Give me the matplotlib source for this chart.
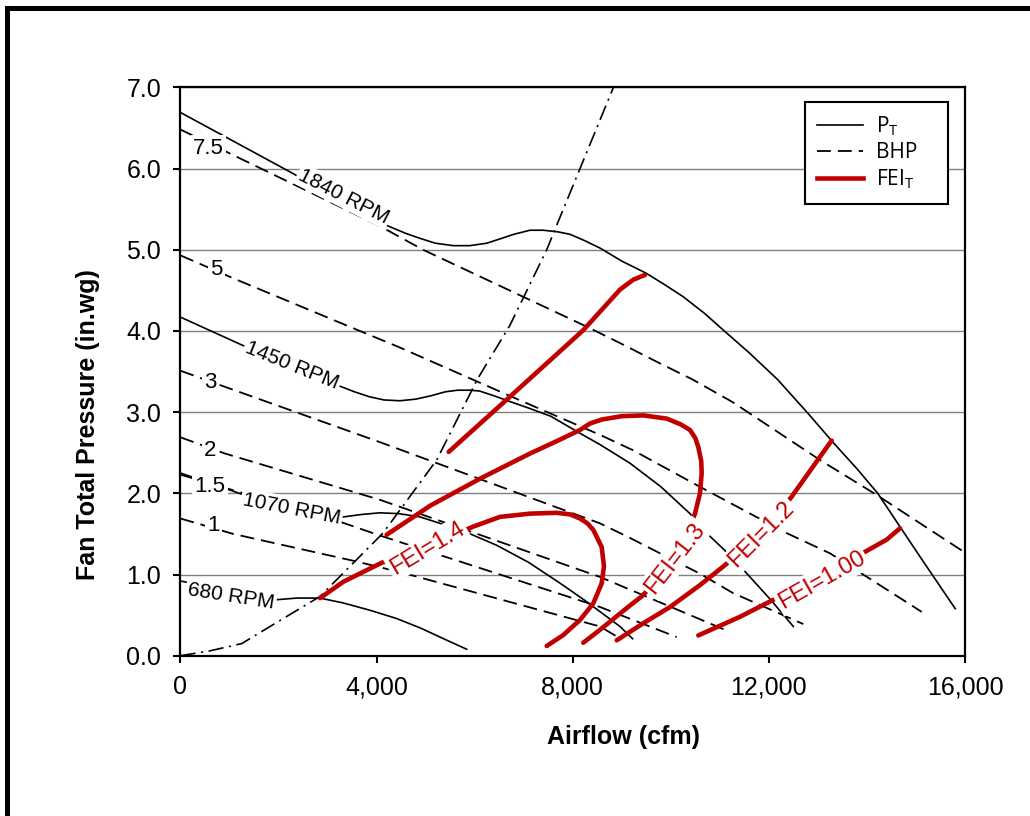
import matplotlib
matplotlib.use('Agg')
import matplotlib.pyplot as plt
from matplotlib.lines import Line2D
from matplotlib.patches import Rectangle
from matplotlib.ticker import FuncFormatter

# fan total pressure curves (cfm, in.wg)
rpm1840_cfm = [0, 1100, 2230, 3300, 4205, 4600, 4885, 5200, 5564, 5900, 6245, 6500, 6800, 7128,
               7400, 7700, 7944, 8250, 8557, 9000, 9500, 9900, 10255, 10700, 11071, 11600,
               12180, 12790, 13320, 13800, 14220, 15082, 15800]
rpm1840_pt = [6.69, 6.33, 5.96, 5.60, 5.30, 5.20, 5.14, 5.08, 5.05, 5.05, 5.08, 5.13, 5.19, 5.24,
              5.24, 5.22, 5.19, 5.11, 5.02, 4.86, 4.71, 4.56, 4.42, 4.21, 4.01, 3.73,
              3.40, 2.99, 2.62, 2.30, 2.00, 1.22, 0.58]
rpm1450_cfm = [0, 1240, 2270, 3208, 3550, 3850, 4150, 4474, 4800, 5100, 5400, 5650, 5900, 6100,
               6400, 6720, 7100, 7550, 8148, 8557, 9170, 9800, 10391, 10732, 11200, 11600,
               12050, 12499]
rpm1450_pt = [4.17, 3.83, 3.55, 3.33, 3.25, 3.19, 3.15, 3.14, 3.16, 3.20, 3.25, 3.27, 3.27, 3.26,
              3.20, 3.13, 3.05, 2.95, 2.74, 2.60, 2.37, 2.08, 1.75, 1.51, 1.24, 0.98,
              0.68, 0.36]
rpm1070_cfm = [0, 1250, 2268, 3208, 3450, 3700, 4066, 4450, 4883, 5500, 5950, 6450, 7100, 7750,
               8250, 8964, 9220]
rpm1070_pt = [2.25, 1.99, 1.82, 1.70, 1.72, 1.74, 1.76, 1.75, 1.71, 1.59, 1.49, 1.36, 1.15, 0.89,
              0.68, 0.36, 0.21]
rpm680_cfm = [0, 1030, 1962, 2370, 2846, 3320, 3865, 4400, 4900, 5400, 5837]
rpm680_pt = [0.92, 0.80, 0.69, 0.71, 0.71, 0.65, 0.56, 0.46, 0.34, 0.20, 0.08]

# constant BHP lines
bhp75_cfm = [0, 4069, 4946, 8294, 8966, 9780, 10450, 11270, 13044, 14199, 16000]
bhp75_pt = [6.48, 5.29, 5.00, 4.05, 3.85, 3.60, 3.40, 3.12, 2.41, 1.98, 1.27]
bhp5_cfm = [0, 1070, 3457, 4458, 6716, 8557, 9232, 10595, 12363, 13250, 15117]
bhp5_pt = [4.93, 4.65, 4.05, 3.80, 3.20, 2.72, 2.53, 2.08, 1.51, 1.26, 0.54]
bhp3_cfm = [0, 869, 4069, 8557, 9170, 10595, 11275, 12702]
bhp3_pt = [3.51, 3.32, 2.63, 1.63, 1.45, 1.01, 0.77, 0.39]
bhp2_cfm = [0, 909, 4069, 8557, 11140]
bhp2_pt = [2.69, 2.49, 1.92, 0.97, 0.31]
bhp15_cfm = [0, 3254, 4069, 8557, 10120]
bhp15_pt = [2.23, 1.65, 1.48, 0.60, 0.23]
bhp1_cfm = [0, 1077, 3594, 4540, 8557, 9000]
bhp1_pt = [1.69, 1.50, 1.16, 1.02, 0.36, 0.20]

# system curve (dash-dot)
sys_cfm = [0, 600, 1250, 1826, 2846, 4130, 5225, 6060, 6720, 7470, 7604, 8830]
sys_pt = [0, 0.06, 0.15, 0.36, 0.73, 1.51, 2.41, 3.41, 4.07, 5.00, 5.20, 7.00]

# FEI contours
fei14_cfm = [2846, 3320, 4103, 4600, 5037, 5500, 5970, 6516, 7128, 7672, 7950, 8148, 8300, 8419,
             8590, 8637, 8590, 8419, 8148, 7807, 7470]
fei14_pt = [0.71, 0.91, 1.145, 1.25, 1.33, 1.47, 1.59, 1.71, 1.75, 1.76, 1.74, 1.69, 1.63, 1.55,
            1.34, 1.10, 0.89, 0.645, 0.44, 0.255, 0.12]
fei13_cfm = [4205, 5100, 6108, 7128, 7700, 8148, 8350, 8600, 9000, 9440, 9916, 10200, 10391,
             10500, 10561, 10620, 10630, 10595, 10493, 10300, 10085, 9750, 9406, 9170, 8557, 8215]
fei13_pt = [1.49, 1.85, 2.18, 2.49, 2.65, 2.78, 2.86, 2.91, 2.95, 2.96, 2.92, 2.85, 2.78,
            2.68, 2.57, 2.40, 2.25, 2.00, 1.75, 1.45, 1.20, 0.95, 0.73, 0.62, 0.32, 0.16]
fei_upper_cfm = [5470, 6720, 8216, 8966, 9232, 9474]
fei_upper_pt = [2.51, 3.19, 4.01, 4.51, 4.63, 4.69]
fei12_cfm = [8897, 9439, 9984, 10595, 11071, 11854, 12466, 13043, 13280]
fei12_pt = [0.19, 0.40, 0.60, 0.87, 1.10, 1.49, 1.96, 2.45, 2.65]
fei100_cfm = [10561, 11413, 12160, 13077, 13963, 14403, 14675]
fei100_pt = [0.25, 0.48, 0.71, 0.98, 1.28, 1.43, 1.57]

# in-plot labels: text, cfm, pressure, angle
rpm_labels = [('1840 RPM', 3335, 5.66, -27), ('1450 RPM', 2274, 3.57, -22),
              ('1070 RPM', 2268, 1.81, -11), ('680 RPM', 1030, 0.735, -9)]
bhp_labels = [('7.5', 567, 6.25), ('5', 738, 4.76), ('3', 602, 3.37),
              ('2', 612, 2.53), ('1.5', 602, 2.08), ('1', 683, 1.60)]
fei_labels = [('FEI=1.4', 5037, 1.32, 31), ('FEI=1.3', 10085, 1.20, 52),
              ('FEI=1.2', 11854, 1.49, 45), ('FEI=1.00', 13077, 0.93, 29.5)]

RED = '#C00000'

plt.rcParams['font.family'] = ['Liberation Sans', 'DejaVu Sans']
plt.rcParams['lines.scale_dashes'] = False

fig = plt.figure(figsize=(10.3, 8.16), dpi=100)
ax = fig.add_axes([0.1752, 0.1964, 0.7617, 0.6966])

dash = (0, (10, 5))
for xs, ys in [(bhp75_cfm, bhp75_pt), (bhp5_cfm, bhp5_pt), (bhp3_cfm, bhp3_pt),
               (bhp2_cfm, bhp2_pt), (bhp15_cfm, bhp15_pt), (bhp1_cfm, bhp1_pt)]:
    ax.plot(xs, ys, color='black', lw=1.3, ls=dash, zorder=3)

for xs, ys in [(rpm1840_cfm, rpm1840_pt), (rpm1450_cfm, rpm1450_pt),
               (rpm1070_cfm, rpm1070_pt), (rpm680_cfm, rpm680_pt)]:
    ax.plot(xs, ys, color='black', lw=1.2, zorder=3)

ax.plot(sys_cfm, sys_pt, color='black', lw=1.2, ls=(0, (11, 4, 1.5, 4)), zorder=3)

for xs, ys in [(fei14_cfm, fei14_pt), (fei13_cfm, fei13_pt), (fei_upper_cfm, fei_upper_pt),
               (fei12_cfm, fei12_pt), (fei100_cfm, fei100_pt)]:
    ax.plot(xs, ys, color=RED, lw=3.3, solid_capstyle='round', solid_joinstyle='round', zorder=4)

box = dict(boxstyle='square,pad=0.1', fc='white', ec='none')
for txt, x, y, rot in rpm_labels:
    ax.text(x, y, txt, rotation=rot, rotation_mode='anchor', ha='center', va='center',
            fontsize=15, zorder=6, bbox=box)
for txt, x, y in bhp_labels:
    ax.text(x, y, txt, ha='center', va='center', fontsize=16, zorder=6, bbox=box)
for txt, x, y, rot in fei_labels:
    ax.text(x, y, txt, rotation=rot, rotation_mode='anchor', ha='center', va='center',
            fontsize=17, color=RED, zorder=6, bbox=box)

ax.set_xlim(0, 16000)
ax.set_ylim(0, 7)
ax.set_xticks(range(0, 16001, 4000))
ax.set_yticks(range(0, 8))
ax.xaxis.set_major_formatter(FuncFormatter(lambda v, p: f'{v:,.0f}'))
ax.yaxis.set_major_formatter(FuncFormatter(lambda v, p: f'{v:.1f}'))
ax.tick_params(direction='out', length=5, width=1.5, labelsize=18, pad=9)
ax.yaxis.grid(True, color='#808080', lw=1.0)
ax.set_axisbelow(True)
for s in ax.spines.values():
    s.set_linewidth(1.6)

ax.set_xlabel('Airflow (cfm)', fontsize=18, fontweight='bold')
ax.set_ylabel('Fan Total Pressure (in.wg)', fontsize=18, fontweight='bold')
ax.xaxis.set_label_coords(0.565, -0.121)
ax.yaxis.set_label_coords(-0.103, 0.406)

handles = [Line2D([], [], color='black', lw=1.2),
           Line2D([], [], color='black', lw=1.3, ls=dash),
           Line2D([], [], color=RED, lw=3.3)]
labels = ['P$_\\mathregular{T}$', 'BHP', 'FEI$_\\mathregular{T}$']
leg = ax.legend(handles, labels, loc='upper left', bbox_to_anchor=(0.796, 0.5, 0.1827, 0.475),
                mode='expand', borderaxespad=0, fancybox=False, edgecolor='black',
                framealpha=1, prop={'family': 'Open Sans', 'size': 15}, handlelength=2.2,
                labelspacing=0.22, borderpad=0.6, handletextpad=0.6)
leg.get_frame().set_linewidth(1.5)
leg.set_zorder(7)

# thick outer frame (only top and left edges fall inside the image)
fig.patches.append(Rectangle((6.5 / 1030, -0.2), 1.5, 0.2 + 1 - 7.5 / 816,
                             transform=fig.transFigure, fill=False, ec='black', lw=3.6))

fig.savefig('out.png', dpi=100)
